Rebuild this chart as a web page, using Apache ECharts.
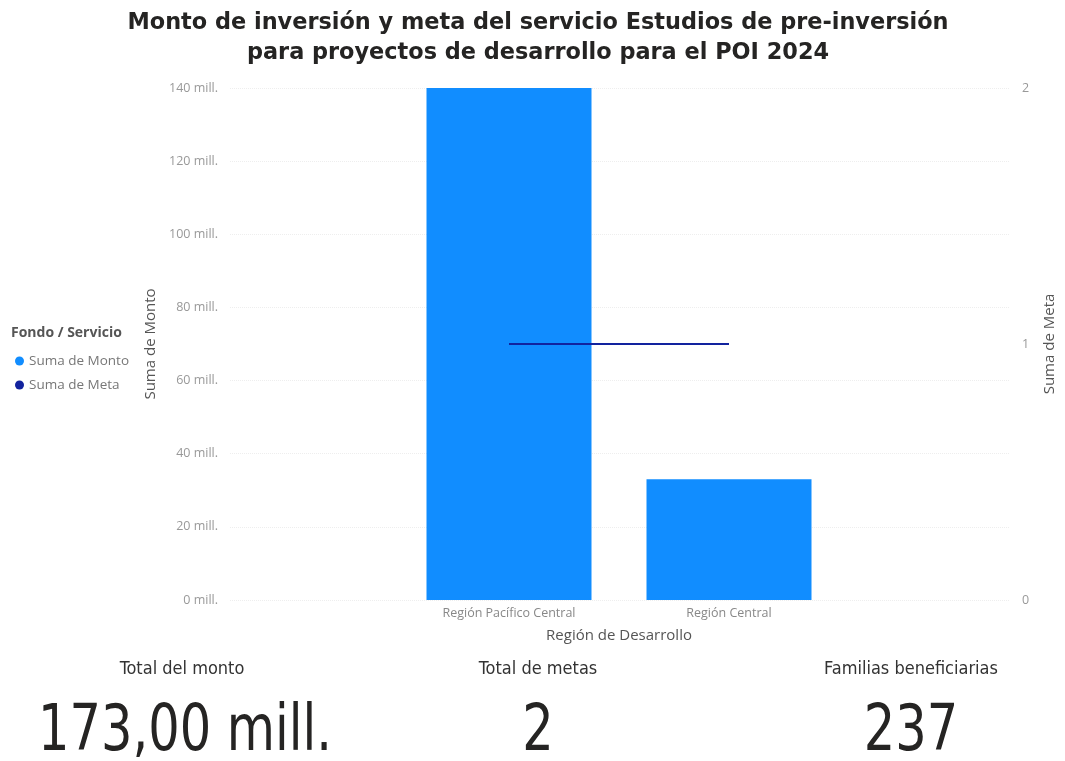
<!DOCTYPE html>
<html><head><meta charset="utf-8">
<script src="https://cdn.jsdelivr.net/npm/echarts@6/dist/echarts.min.js"></script>
<style>html,body{margin:0;padding:0;background:#fff}#c{width:1065px;height:761px}</style>
</head><body><div id="c"></div>
<script>
const categories = ['Región Pacífico Central', 'Región Central'];
const montoValues = [140, 33];
const metaValues = [1, 1];
const leftTicks = [0, 20, 40, 60, 80, 100, 120, 140];
const rightTicks = [0, 1, 2];
const familias = 237;

const totalMonto = montoValues.reduce((a, b) => a + b, 0);
const totalMetas = metaValues.reduce((a, b) => a + b, 0);

const chart = echarts.init(document.getElementById('c'));
const F = '"Open Sans", "DejaVu Sans", sans-serif';
const KF = '"Liberation Sans Narrow", "DejaVu Sans Condensed", "Roboto", sans-serif';
const gTop = 88, gBottom = 161;
const kpiLabel = (x, t) => ({ type: 'text', x: x, y: 669, style: { text: t, fontFamily: KF, fontSize: 18, fill: '#333', align: 'center', verticalAlign: 'middle' } });
const kpiValue = (x, t) => ({ type: 'text', x: x, y: 734, scaleY: 1.15, style: { text: t, fontFamily: KF, fontSize: 55, fill: '#252423', align: 'center', verticalAlign: 'middle' } });
chart.setOption({
  animation: false,
  title: {
    text: 'Monto de inversión y meta del servicio Estudios de pre-inversión\npara proyectos de desarrollo para el POI 2024',
    left: 533, top: 3, textAlign: 'center',
    textStyle: { fontFamily: '"DejaVu Sans", sans-serif', fontWeight: 'bold', fontSize: 22.4, lineHeight: 30, color: '#252423' }
  },
  legend: {
    orient: 'vertical', left: 10, top: 349,
    data: ['Suma de Monto', 'Suma de Meta'],
    icon: 'circle', itemWidth: 9, itemHeight: 9, itemGap: 10,
    textStyle: { fontFamily: F, fontSize: 13.5, color: '#777' }
  },
  grid: [
    { left: 230, right: 38, top: gTop, bottom: gBottom },
    { left: 399, width: 440, top: gTop, bottom: gBottom }
  ],
  xAxis: [
    { gridIndex: 0, type: 'category', data: categories, show: false },
    { gridIndex: 1, type: 'category', data: categories,
      axisLine: { show: false }, axisTick: { show: false },
      axisLabel: { fontFamily: F, fontSize: 12.5, color: '#888', margin: 7 },
      name: 'Región de Desarrollo', nameLocation: 'middle', nameGap: 28,
      nameTextStyle: { fontFamily: F, fontSize: 15, color: '#555' } }
  ],
  yAxis: [
    { gridIndex: 0, type: 'value', min: leftTicks[0], max: leftTicks[leftTicks.length - 1], interval: 20,
      axisLabel: { formatter: v => v + ' mill.', fontFamily: F, fontSize: 12.5, color: '#999', margin: 12 },
      splitLine: { lineStyle: { color: '#eee', type: 'dotted' } },
      axisLine: { show: false }, axisTick: { show: false },
      name: 'Suma de Monto', nameLocation: 'middle', nameGap: 69, nameRotate: 90,
      nameTextStyle: { fontFamily: F, fontSize: 15, color: '#555' } },
    { gridIndex: 0, type: 'value', min: rightTicks[0], max: rightTicks[rightTicks.length - 1], interval: 1, position: 'right',
      axisLabel: { fontFamily: F, fontSize: 12.5, color: '#999', margin: 13 },
      splitLine: { show: false }, axisLine: { show: false }, axisTick: { show: false },
      name: 'Suma de Meta', nameLocation: 'middle', nameGap: 33, nameRotate: 90,
      nameTextStyle: { fontFamily: F, fontSize: 15, color: '#555' } },
    { gridIndex: 1, type: 'value', min: 0, max: 140, show: false },
    { gridIndex: 1, type: 'value', min: 0, max: 2, show: false }
  ],
  series: [
    { name: 'Suma de Monto', type: 'bar', xAxisIndex: 1, yAxisIndex: 2,
      data: montoValues, barWidth: '75%', itemStyle: { color: '#118DFF' } },
    { name: 'Suma de Meta', type: 'line', xAxisIndex: 1, yAxisIndex: 3,
      data: metaValues, symbol: 'none', lineStyle: { color: '#12239E', width: 2 }, itemStyle: { color: '#12239E' } }
  ],
  graphic: [
    { type: 'text', left: 11, top: 326, style: { text: 'Fondo / Servicio', fontFamily: F, fontSize: 14, fontWeight: 'bold', fill: '#555' } },
    kpiLabel(182, 'Total del monto'),
    kpiLabel(538, 'Total de metas'),
    kpiLabel(911, 'Familias beneficiarias'),
    kpiValue(185, totalMonto.toFixed(2).replace('.', ',') + ' mill.'),
    kpiValue(538, String(totalMetas)),
    kpiValue(911, String(familias))
  ]
});
</script></body></html>
